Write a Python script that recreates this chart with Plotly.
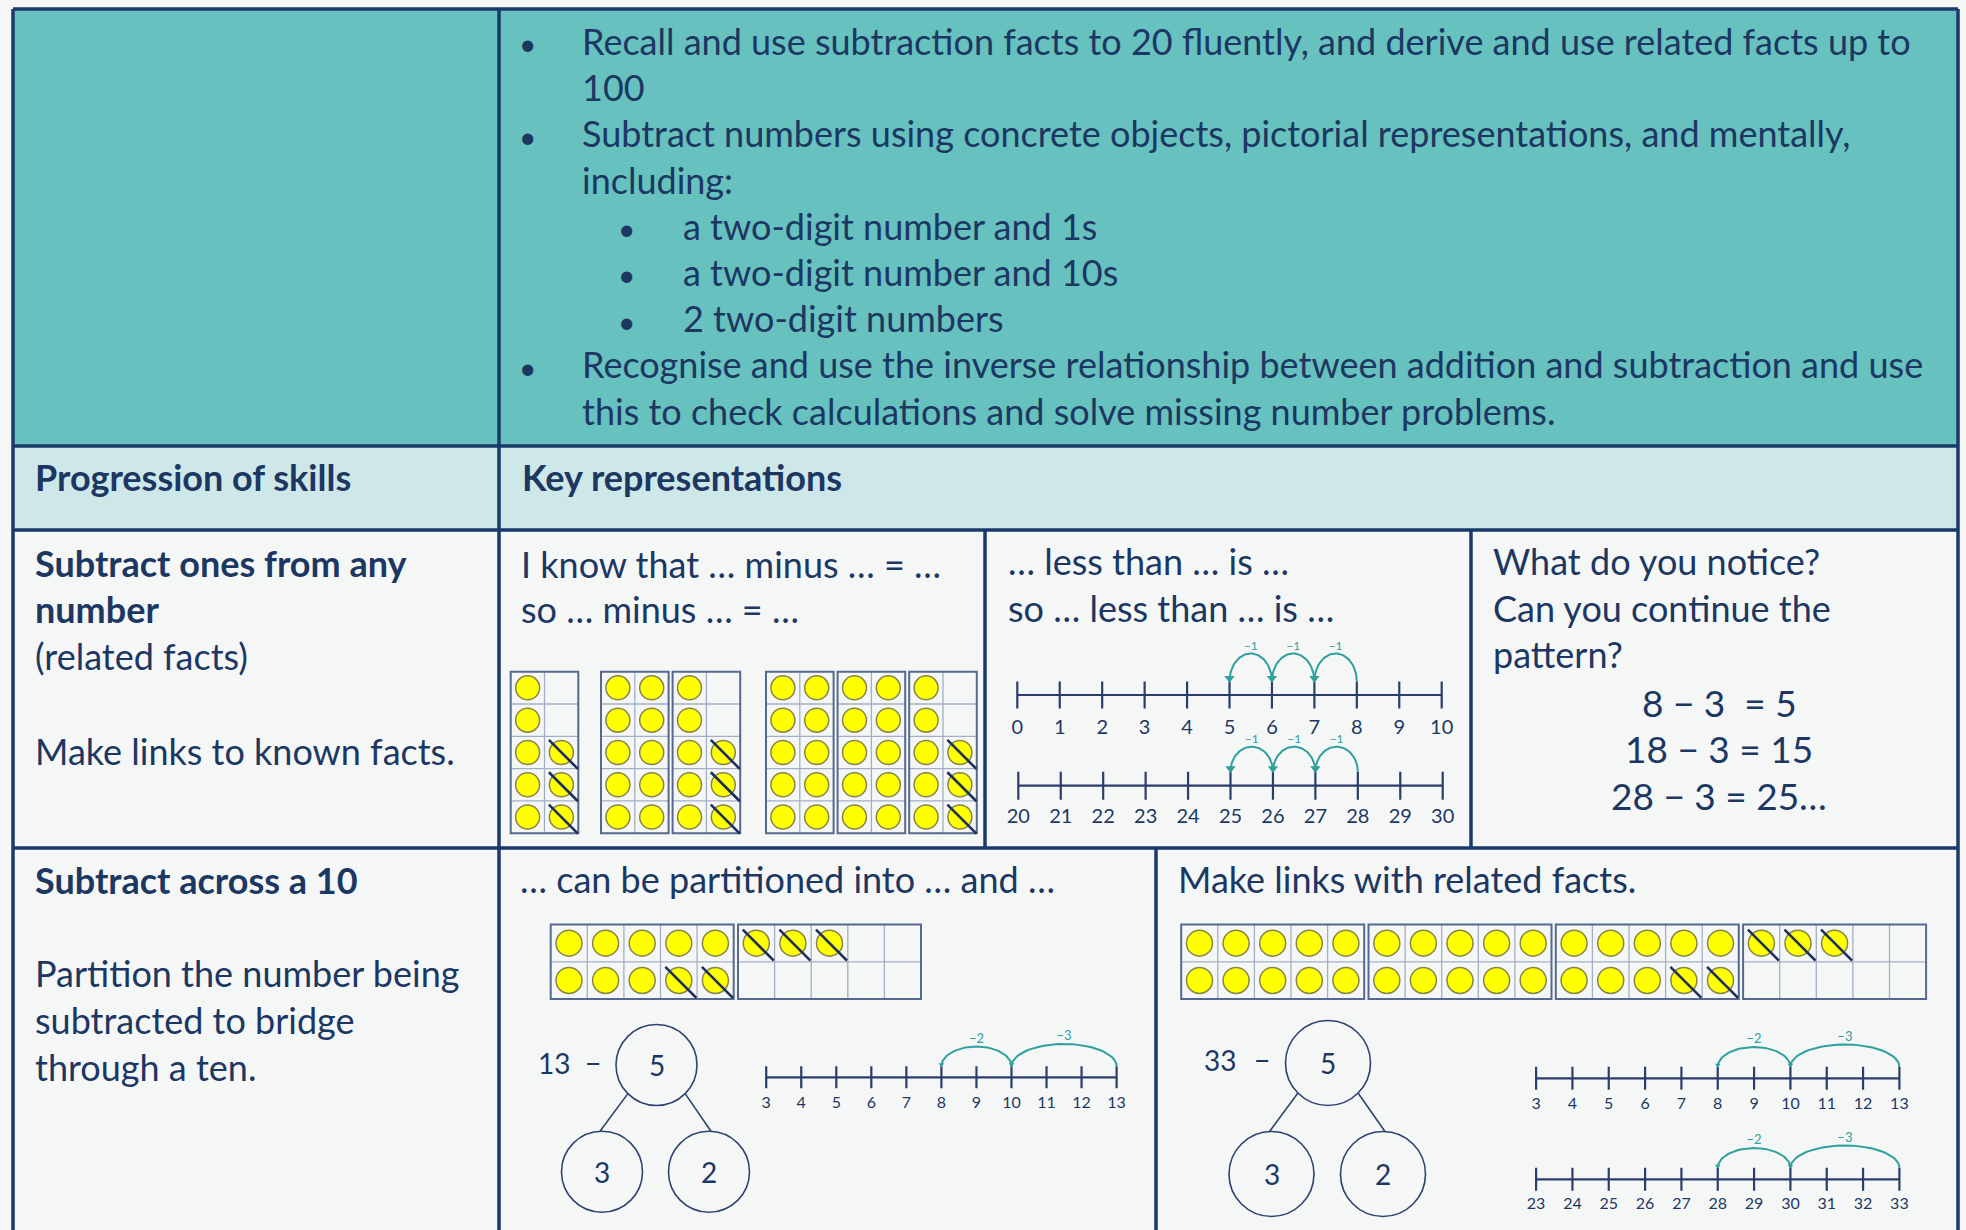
import math
import plotly.graph_objects as go

W, H = 1966, 1230
NAVY = "#1d3763"
BORDER = "#1b3a6b"
TEAL = "#67c1be"
LIGHT = "#cee7e8"
BG = "#f5f7f7"
JUMP = "#30a09d"
LINE = "#2b3e6a"
FONT = "Lato"

# ---------------- data ----------------
objective_text = [
    "Recall and use subtraction facts to 20 fluently, and derive and use related facts up to",
    "100",
    "Subtract numbers using concrete objects, pictorial representations, and mentally,",
    "including:",
    "a two-digit number and 1s",
    "a two-digit number and 10s",
    "2 two-digit numbers",
    "Recognise and use the inverse relationship between addition and subtraction and use",
    "this to check calculations and solve missing number problems.",
]
objective_level = [0, 0, 0, 0, 1, 1, 1, 0, 0]
objective_bullet = [True, False, True, False, True, True, True, True, False]

header_labels = ["Progression of skills", "Key representations"]

skill1_lines = ["Subtract ones from any", "number", "(related facts)", "Make links to known facts."]
skill1_bold = [True, True, False, False]
skill2_lines = ["Subtract across a 10", "Partition the number being", "subtracted to bridge", "through a ten."]
skill2_bold = [True, False, False, False]

prompt_facts = ["I know that … minus … = …", "so … minus … = …"]
prompt_less = ["… less than … is …", "so … less than … is …"]
prompt_notice = ["What do you notice?", "Can you continue the", "pattern?"]
pattern_equations = ["8 − 3  = 5", "18 − 3 = 15", "28 − 3 = 25…"]
prompt_partition = "… can be partitioned into … and …"
prompt_links = "Make links with related facts."

# ten frames: F = counter, X = counter crossed out, . = empty cell
TF_FULL_V = ["FF", "FF", "FF", "FF", "FF"]
TF_8_MINUS_3_V = ["F.", "F.", "FX", "FX", "FX"]
TF_FULL_H = ["FFFFF", "FFFFF"]
TF_10_MINUS_2_H = ["FFFFF", "FFFXX"]
TF_3_CROSSED_H = ["XXX..", "....."]

ones_groups = [[TF_8_MINUS_3_V],
               [TF_FULL_V, TF_8_MINUS_3_V],
               [TF_FULL_V, TF_FULL_V, TF_8_MINUS_3_V]]
ten_frames_13 = [TF_10_MINUS_2_H, TF_3_CROSSED_H]
ten_frames_33 = [TF_FULL_H, TF_FULL_H, TF_10_MINUS_2_H, TF_3_CROSSED_H]

# number lines (start, end, jumps as (from, to))
nl_starts = [0, 20, 3, 3, 23]
nl_ends = [10, 30, 13, 13, 33]
nl_jumps = [[(8, 7), (7, 6), (6, 5)],
            [(28, 27), (27, 26), (26, 25)],
            [(13, 10), (10, 8)],
            [(13, 10), (10, 8)],
            [(33, 30), (30, 28)]]

# part-whole models
pw_whole = 5
pw_parts = [3, 2]
pw_minuends = [13, 33]

# ---------------- layout constants (pixels) ----------------
TL, TR, TT = 13, 1958, 9
ROW_Y = [9, 446, 530, 848, 1260]
COL = 499
R2_DIV = [985, 1471]
R3_DIV = [1156]
FS = 36   # main text size

shapes = []
annotations = []
traces = []


def rect(x0, y0, x1, y1, fill, layer="below", line=None):
    shapes.append(dict(type="rect", xref="x", yref="y", x0=x0, y0=y0, x1=x1, y1=y1,
                       fillcolor=fill, line=line or dict(width=0), layer=layer))


def seg(x0, y0, x1, y1, color, width, layer="above"):
    shapes.append(dict(type="line", xref="x", yref="y", x0=x0, y0=y0, x1=x1, y1=y1,
                       line=dict(color=color, width=width), layer=layer))


def text(x, y, s, size, bold=False, color=NAVY, xanchor="left"):
    annotations.append(dict(x=x, y=y, xref="x", yref="y",
                            text=f"<b>{s}</b>" if bold else s, showarrow=False,
                            xanchor=xanchor, yanchor="middle",
                            font=dict(family=FONT, size=size, color=color)))


def base_text(x, baseline, s, size, **kw):
    # place text by its baseline
    text(x, baseline - 0.387 * size, s, size, **kw)


# ---- table backgrounds ----
rect(TL, ROW_Y[0], TR, ROW_Y[1], TEAL)
rect(TL, ROW_Y[1], TR, ROW_Y[2], LIGHT)
rect(TL, ROW_Y[2], TR, ROW_Y[4], BG)

# ---- row 1: objectives ----
OBJ_XB = [527, 626]
OBJ_XT = [580, 681]
for i, (s, lvl, b) in enumerate(zip(objective_text, objective_level, objective_bullet)):
    bl = 55 + 46.2 * i
    if b:
        base_text(OBJ_XB[lvl], bl, "•", 30, xanchor="center")
    base_text(OBJ_XT[lvl], bl, s, FS)

# ---- header ----
base_text(33, 490.5, header_labels[0], FS, bold=True)
base_text(520, 490.5, header_labels[1], FS, bold=True)

# ---- left column ----
for s, b, bl in zip(skill1_lines, skill1_bold, [576.6, 623.3, 669.5, 764.6]):
    base_text(33, bl, s, FS, bold=b)
for s, b, bl in zip(skill2_lines, skill2_bold, [893.6, 986.5, 1034, 1080.7]):
    base_text(33, bl, s, FS, bold=b)

# ---- prompts ----
for s, bl in zip(prompt_facts, [578.3, 623.3]):
    base_text(519, bl, s, FS)
for s, bl in zip(prompt_less, [575, 621.7]):
    base_text(1006, bl, s, FS)
for s, bl in zip(prompt_notice, [575, 621.7, 668.3]):
    base_text(1491, bl, s, FS)
for s, bl in zip(pattern_equations, [716.7, 763.3, 810]):
    base_text(1719, bl, s, 37, xanchor="center")
base_text(518, 893.3, prompt_partition, FS)
base_text(1176, 893.3, prompt_links, FS)

# ---- ten frames ----
FRAME_OUT = "#56688f"
FRAME_IN = "#a3aec6"
counters = {}   # size -> (xs, ys)
crosses = {}


def ten_frame(x0, y0, pattern, cw, ch, size):
    rows, cols = len(pattern), len(pattern[0])
    w, h = cols * cw, rows * ch
    for c in range(1, cols):
        seg(x0 + c * cw, y0, x0 + c * cw, y0 + h, FRAME_IN, 1.3, layer="below")
    for r in range(1, rows):
        seg(x0, y0 + r * ch, x0 + w, y0 + r * ch, FRAME_IN, 1.3, layer="below")
    rect(x0, y0, x0 + w, y0 + h, "rgba(0,0,0,0)",
         line=dict(color=FRAME_OUT, width=2))
    cx, cy = counters.setdefault(size, ([], []))
    kx, ky = crosses.setdefault(size, ([], []))
    for r, row in enumerate(pattern):
        for c, cell in enumerate(row):
            if cell in "FX":
                px, py = x0 + (c + 0.5) * cw, y0 + (r + 0.5) * ch
                cx.append(px)
                cy.append(py)
                if cell == "X":
                    kx.append(px + 2)
                    ky.append(py + 2)
    return w


# row 2 vertical frames
group_x = [510.7, 601, 766]
for gx, group in zip(group_x, ones_groups):
    x = gx
    for pat in group:
        w = ten_frame(x, 671.7, pat, 33.8, 32.3, 24)
        x += w + 4

# row 3 horizontal frames
for x0, frames in [(550.7, ten_frames_13), (1181.2, ten_frames_33)]:
    x = x0
    for pat in frames:
        w = ten_frame(x, 924.5, pat, 36.6, 37.3, 26)
        x += w + 4.3

for size, (xs, ys) in counters.items():
    traces.append(go.Scatter(x=xs, y=ys, mode="markers", xaxis="x", yaxis="y",
                             marker=dict(size=size, color="#ffff00",
                                         line=dict(color="#86864a", width=1.5)),
                             hoverinfo="skip", showlegend=False, cliponaxis=False))
for size, (xs, ys) in crosses.items():
    traces.append(go.Scatter(x=xs, y=ys, mode="markers", xaxis="x", yaxis="y",
                             marker=dict(size=size + 5, symbol="line-nw",
                                         line=dict(color="#1d2f5a", width=2.6)),
                             hoverinfo="skip", showlegend=False, cliponaxis=False))

# ---- part-whole models ----
PW_LAYOUT = [
    dict(whole=(656.5, 1065), r=40.5, parts=[(602, 1171.7), (709, 1171.7)],
         num_x=535.5, minus_x=593, y=1063),
    dict(whole=(1328, 1063), r=42.5, parts=[(1271.5, 1174), (1383, 1174)],
         num_x=1202, minus_x=1262, y=1060),
]
CIRC = "#2e4470"
for lay, minuend in zip(PW_LAYOUT, pw_minuends):
    (wx, wy), r = lay["whole"], lay["r"]
    shapes.append(dict(type="circle", xref="x", yref="y", x0=wx - r, y0=wy - r,
                       x1=wx + r, y1=wy + r, line=dict(color=CIRC, width=1.6)))
    text(wx, wy, str(pw_whole), 28, xanchor="center")
    for sgn, (px, py), part in zip([-1, 1], lay["parts"], pw_parts):
        shapes.append(dict(type="circle", xref="x", yref="y", x0=px - r, y0=py - r,
                           x1=px + r, y1=py + r, line=dict(color=CIRC, width=1.6)))
        text(px, py, str(part), 28, xanchor="center")
        seg(wx + sgn * r * math.sin(math.pi / 4), wy + r * math.cos(math.pi / 4),
            px + sgn * 2, py - r, CIRC, 1.6)
    text(lay["num_x"], lay["y"], str(minuend), 28)
    text(lay["minus_x"], lay["y"], "−", 28, xanchor="center")

# ---- number lines (each on its own axes) ----
# x_start_px, x_end_px, line_y, tick_half, label_offset, tick_font, arc_h0, arc_h_unit, jump_font, arrow
NL_LAYOUT = [
    (1017.3, 1441.7, 695.0, 13.5, 28.0, 20, 28, 0.0, 12, 9),
    (1018.3, 1442.7, 785.7, 14.0, 26.5, 20, 25, 0.0, 12, 9),
    (766.2, 1116.6, 1077.3, 11.0, 22.5, 16, 14.5, 2.6, 13, 5),
    (1536.1, 1899.4, 1078.3, 11.5, 22.5, 16, 14.5, 2.6, 13, 5),
    (1536.1, 1899.4, 1179.3, 11.5, 21.0, 16, 14.5, 2.6, 13, 5),
]
layout_axes = {}
for i, (start, end, jumps, lay) in enumerate(zip(nl_starts, nl_ends, nl_jumps, NL_LAYOUT)):
    k = i + 2
    x0p, x1p, ly, th, loff, tfs, ah0, ahu, jfs, arr = lay
    step = (x1p - x0p) / (end - start)
    pad = 0.4
    below, above = th + 1, 62
    vals = list(range(start, end + 1))
    standoff = int(round(max(0, loff - below - 3 - 0.36 * tfs)))
    layout_axes[f"xaxis{k}"] = dict(
        domain=[(x0p - pad * step) / W, (x1p + pad * step) / W],
        range=[start - pad, end + pad], anchor=f"y{k}", showgrid=False,
        zeroline=False, showline=False, ticks="", tickvals=vals,
        ticktext=[str(v) for v in vals], ticklabelstandoff=standoff,
        tickfont=dict(family=FONT, size=tfs, color=NAVY), fixedrange=True)
    layout_axes[f"yaxis{k}"] = dict(
        domain=[1 - (ly + below) / H, 1 - (ly - above) / H],
        range=[-below, above], anchor=f"x{k}", visible=False, fixedrange=True)
    xa, ya = f"x{k}", f"y{k}"
    common = dict(xaxis=xa, yaxis=ya, hoverinfo="skip", showlegend=False, cliponaxis=False)
    traces.append(go.Scatter(x=[start, end], y=[0, 0], mode="lines",
                             line=dict(color=LINE, width=2.2), **common))
    tx, ty = [], []
    for v in vals:
        tx += [v, v, None]
        ty += [-th, th, None]
    traces.append(go.Scatter(x=tx, y=ty, mode="lines",
                             line=dict(color=LINE, width=2.2), **common))
    axs, ays, hx, hy, lx, lyy, lt = [], [], [], [], [], [], []
    for a, b in jumps:
        c, half = (a + b) / 2, abs(a - b) / 2
        hgt = ah0 + ahu * abs(a - b)
        for j in range(41):
            t = math.pi * j / 40
            axs.append(c + half * math.cos(t))
            ays.append(th + hgt * math.sin(t))
        axs.append(None)
        ays.append(None)
        hx.append(b)
        hy.append(th + arr * 0.35)
        lx.append(c)
        lyy.append(th + hgt + 7)
        lt.append(f"−{abs(a - b)}")
    traces.append(go.Scatter(x=axs, y=ays, mode="lines",
                             line=dict(color=JUMP, width=2), **common))
    traces.append(go.Scatter(x=hx, y=hy, mode="markers",
                             marker=dict(symbol="triangle-down", size=arr, color=JUMP), **common))
    traces.append(go.Scatter(x=lx, y=lyy, mode="text", text=lt,
                             textfont=dict(family=FONT, size=jfs, color=JUMP), **common))

# ---- table borders ----
BW = 3.5
seg(TL, TT, TR, TT, BORDER, BW)
seg(TL, TT, TL, ROW_Y[4], BORDER, BW)
seg(TR, TT, TR, ROW_Y[4], BORDER, BW)
for y in ROW_Y[1:4]:
    seg(TL, y, TR, y, BORDER, BW)
seg(COL, TT, COL, ROW_Y[4], BORDER, BW)
for x in R2_DIV:
    seg(x, ROW_Y[2], x, ROW_Y[3], BORDER, BW)
for x in R3_DIV:
    seg(x, ROW_Y[3], x, ROW_Y[4], BORDER, BW)

fig = go.Figure(data=traces)
fig.update_layout(
    width=W, height=H, margin=dict(l=0, r=0, t=0, b=0),
    paper_bgcolor=BG, plot_bgcolor="rgba(0,0,0,0)",
    xaxis=dict(range=[0, W], domain=[0, 1], visible=False, fixedrange=True),
    yaxis=dict(range=[H, 0], domain=[0, 1], visible=False, fixedrange=True),
    shapes=shapes, annotations=annotations, showlegend=False,
    **layout_axes,
)
fig.write_html(
    "out.html",
    config={"displayModeBar": False, "staticPlot": True},
    post_script="document.body.style.margin='0';document.body.style.overflow='hidden';"
                "document.body.style.background='" + BG + "';",
)
